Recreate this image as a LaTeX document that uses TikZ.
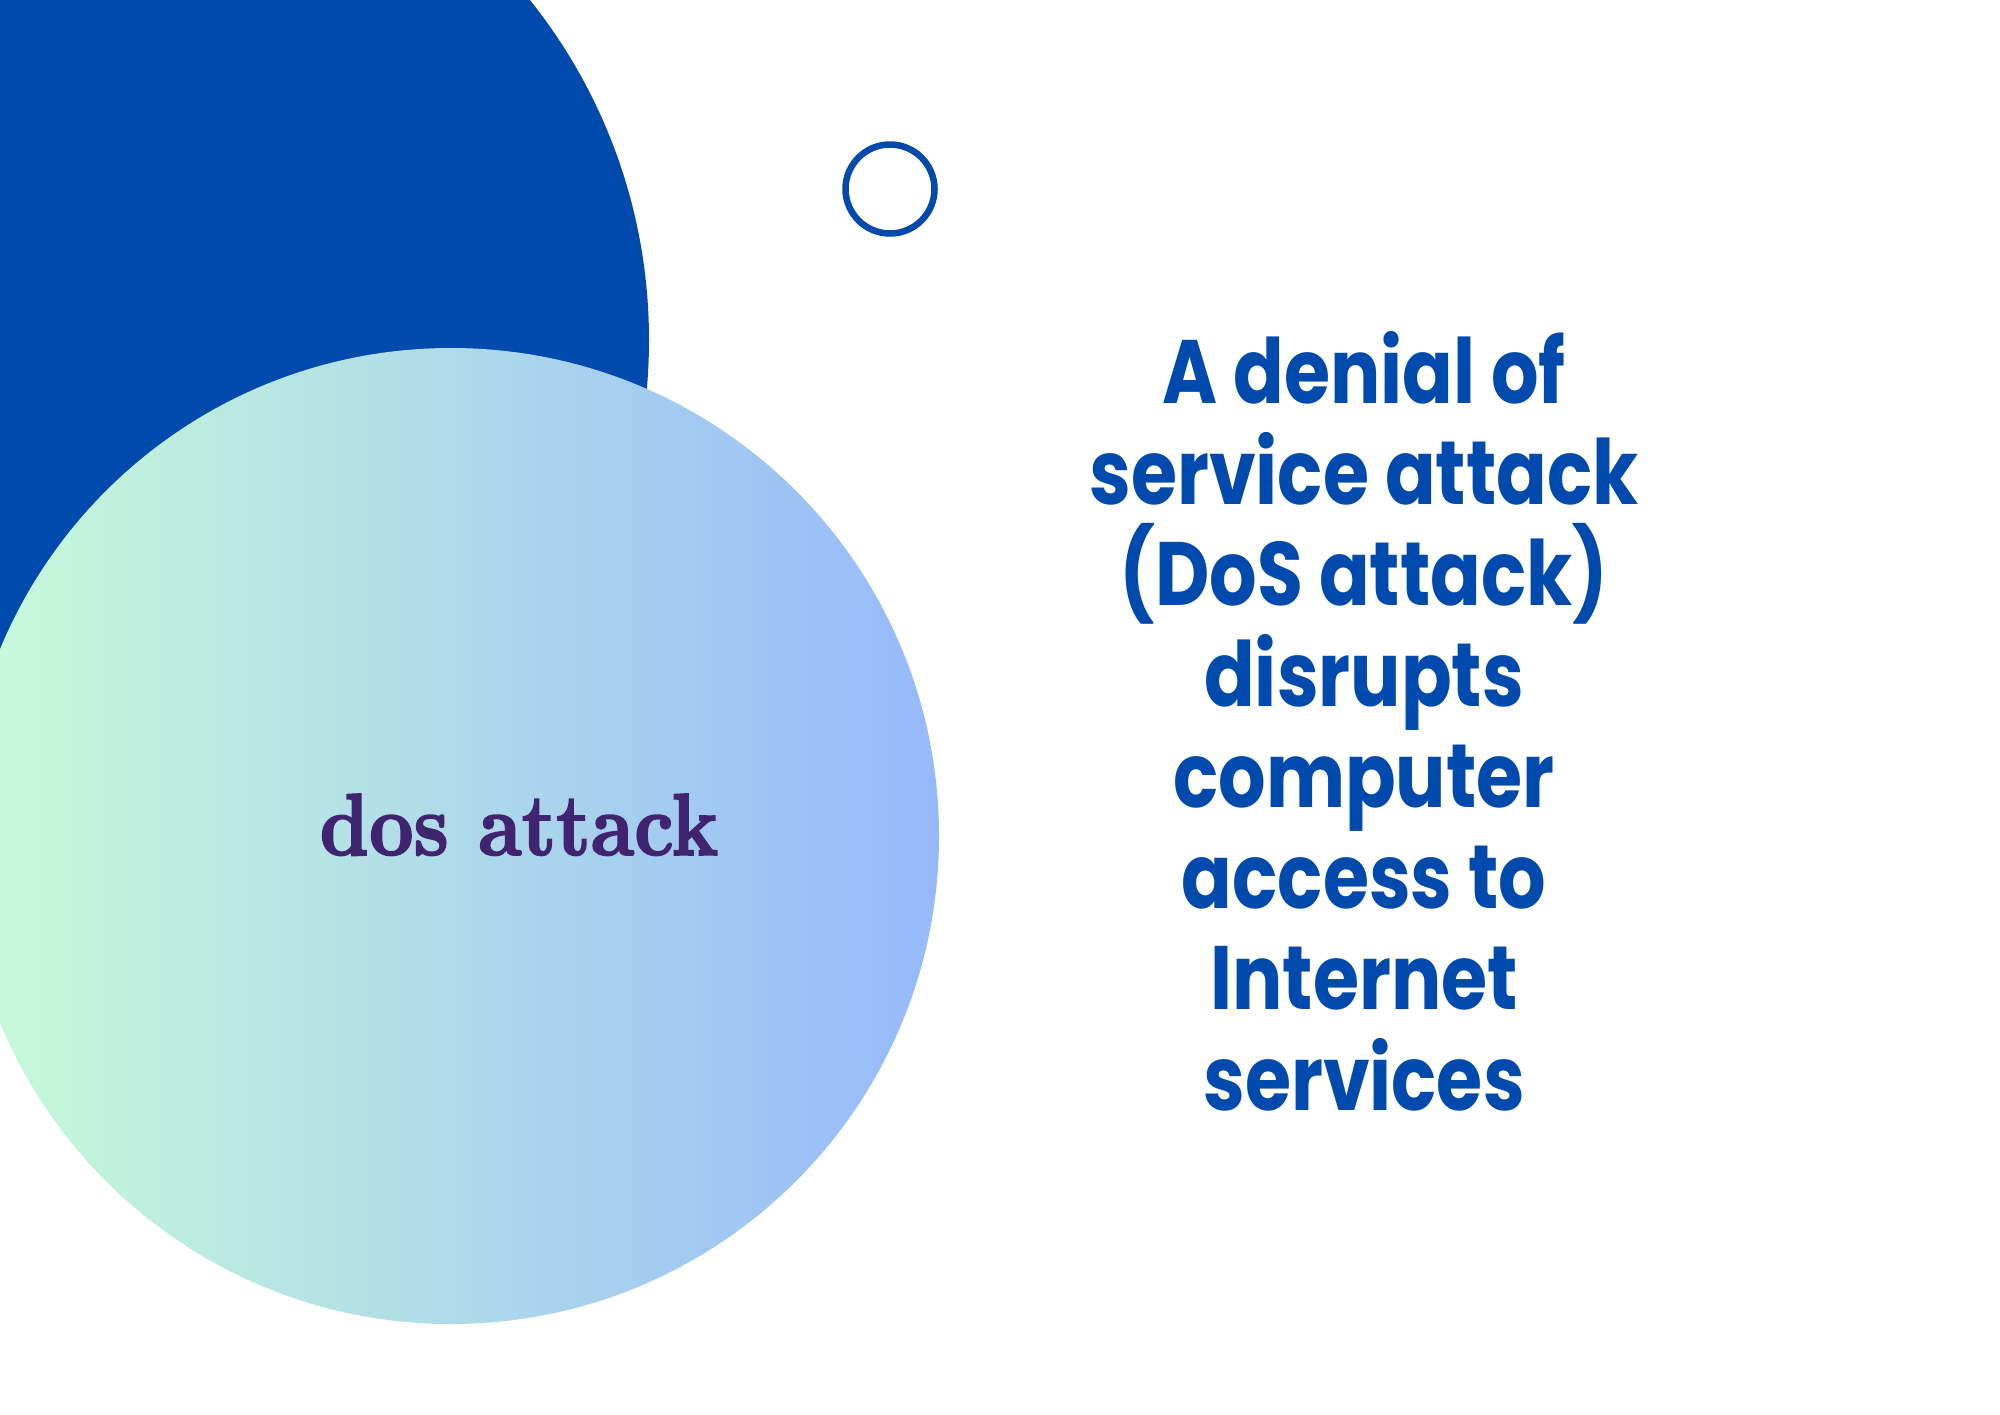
\documentclass[tikz,border=0pt]{standalone}
\usepackage{fontspec}
\setmainfont{Latin Modern Roman}
\newfontfamily\spartan{Poppins}[BoldFont={* Bold}]
\newfontfamily\playfair{lmroman10-bold}[Extension=.otf, FakeBold=2]
\usetikzlibrary{positioning}

\definecolor{deepblue}{HTML}{004AAD}
\definecolor{plum}{HTML}{40246F}
\definecolor{mint}{HTML}{C8FBD8}
\definecolor{skyblue}{HTML}{96B9FA}

\tikzset{
  bodytext/.style={text=deepblue, inner sep=0pt, font=\spartan\bfseries\fontsize{90}{101}\selectfont},
  titletext/.style={text=plum, inner sep=0pt, font=\playfair\fontsize{88}{96}\selectfont}
}

\begin{document}
\begin{tikzpicture}[x=1pt,y=-1pt]
\useasboundingbox (0,0) rectangle (2000,1414);
\clip (0,0) rectangle (2000,1414);
\fill[white] (0,0) rectangle (2000,1414);
% big circles
\fill[deepblue] (104,340) circle (545);
\shade[left color=mint, right color=skyblue] (451,836) circle (488);
% small ring
\draw[deepblue, line width=6.5pt] (890,189) circle (44.5);
% titles
\node[titletext, anchor=base] (title) at (519,855) {\scalebox{0.88}[1]{dos attack}};
\foreach \t [count=\i] in {A denial of, service attack, (DoS attack), disrupts, computer, access to, Internet, services}
  \node[bodytext, anchor=base] (line\i) at (1364,{403+101*(\i-1)}) {\scalebox{0.83}[1]{\t}};
\end{tikzpicture}
\end{document}
